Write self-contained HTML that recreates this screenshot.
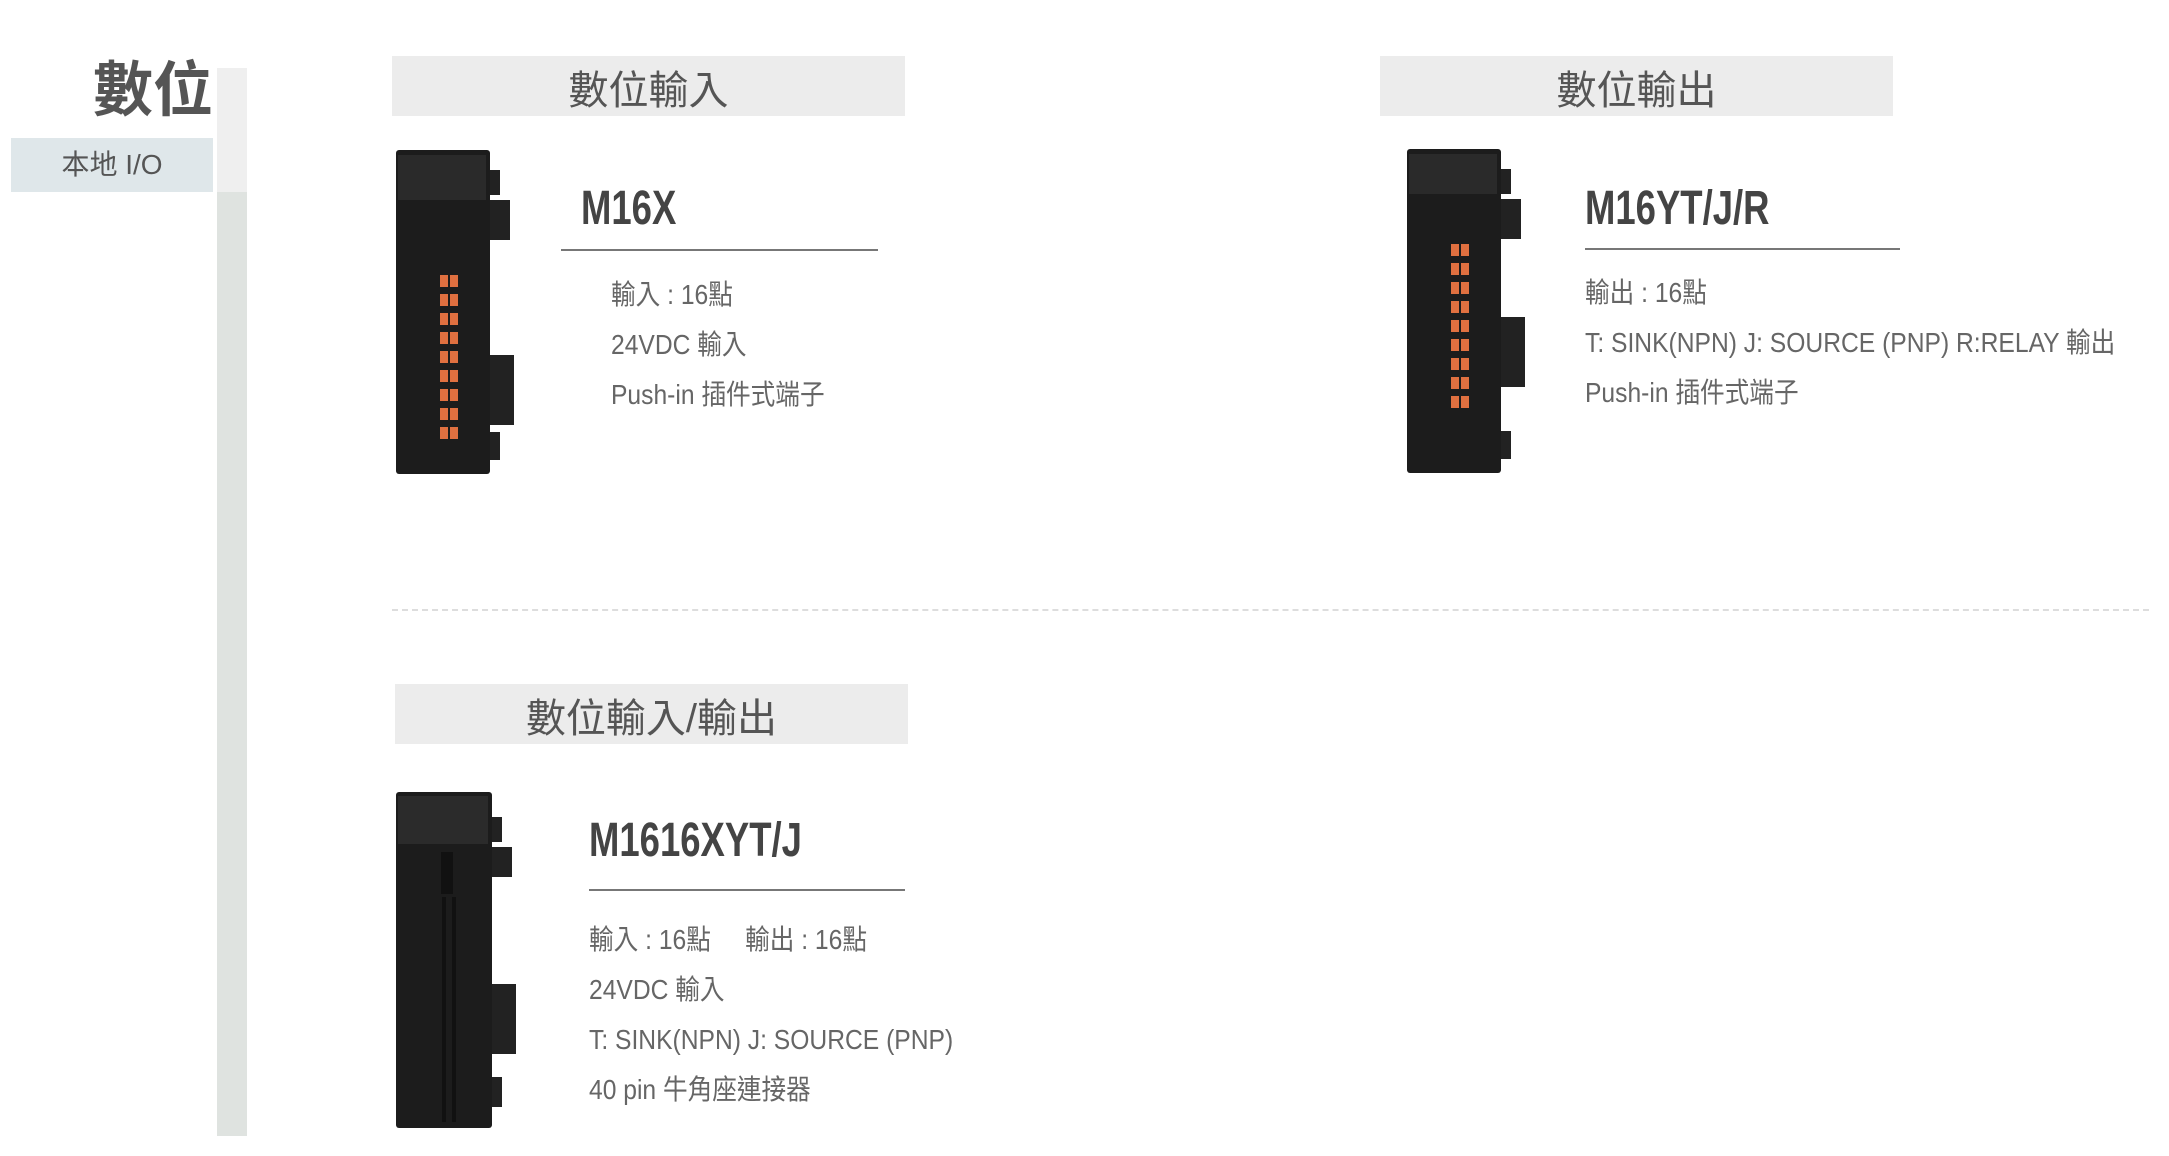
<!DOCTYPE html>
<html><head><meta charset="utf-8"><style>
*{margin:0;padding:0;box-sizing:border-box}
body{width:2169px;height:1156px;background:#fff;position:relative;overflow:hidden;font-family:"Liberation Sans","Noto Sans CJK TC",sans-serif;color:#555}
.a{position:absolute;white-space:nowrap}
.hdr{position:absolute;background:#ececec;color:#555;font-size:40px;text-align:center;line-height:70px;overflow:hidden}
.model{position:absolute;white-space:nowrap;font-weight:bold;font-size:48px;color:#444;line-height:50px;transform:scaleX(0.76);transform-origin:0 0}
.ul{position:absolute;height:2px;background:#777}
.d{position:absolute;white-space:nowrap;font-size:28px;color:#666;line-height:50px;transform:scaleX(0.88);transform-origin:0 0}
</style></head><body>
<div class="a" style="left:93px;top:54px;font-size:60px;font-weight:bold;color:#555;line-height:74px">數位</div>
<div class="a" style="left:11px;top:138px;width:202px;height:54px;background:#dfe7ea;font-size:28px;line-height:54px;text-align:center;color:#555">本地 I/O</div>
<div class="a" style="left:217px;top:68px;width:30px;height:124px;background:#efefef"></div>
<div class="a" style="left:217px;top:192px;width:30px;height:944px;background:#dfe3e0"></div>

<div class="hdr" style="left:392px;top:56px;width:513px;height:60px">數位輸入</div>
<div class="hdr" style="left:1380px;top:56px;width:513px;height:60px">數位輸出</div>
<div class="a" style="left:392px;top:609px;width:1757px;border-top:2px dashed #ddd"></div>
<div class="hdr" style="left:395px;top:684px;width:513px;height:60px">數位輸入/輸出</div>

<svg class="a" style="left:396px;top:150px" width="120" height="330" viewBox="0 0 120 330">
<rect x="0" y="0" width="94" height="324" rx="3" fill="#1c1c1c"/>
<rect x="2" y="5" width="88" height="45" fill="#2a2a2a"/>
<rect x="94" y="20" width="10" height="25" fill="#222"/><rect x="94" y="50" width="20" height="40" fill="#222"/>
<rect x="94" y="205" width="24" height="70" fill="#222"/><rect x="94" y="282" width="10" height="28" fill="#222"/>
<g fill="#e07040">
<rect x="44" y="125" width="8" height="12"/><rect x="54" y="125" width="8" height="12"/>
<rect x="44" y="144" width="8" height="12"/><rect x="54" y="144" width="8" height="12"/>
<rect x="44" y="163" width="8" height="12"/><rect x="54" y="163" width="8" height="12"/>
<rect x="44" y="182" width="8" height="12"/><rect x="54" y="182" width="8" height="12"/>
<rect x="44" y="201" width="8" height="12"/><rect x="54" y="201" width="8" height="12"/>
<rect x="44" y="220" width="8" height="12"/><rect x="54" y="220" width="8" height="12"/>
<rect x="44" y="239" width="8" height="12"/><rect x="54" y="239" width="8" height="12"/>
<rect x="44" y="258" width="8" height="12"/><rect x="54" y="258" width="8" height="12"/>
<rect x="44" y="277" width="8" height="12"/><rect x="54" y="277" width="8" height="12"/>
</g></svg>
<svg class="a" style="left:1407px;top:149px" width="120" height="330" viewBox="0 0 120 330">
<rect x="0" y="0" width="94" height="324" rx="3" fill="#1c1c1c"/>
<rect x="2" y="5" width="88" height="40" fill="#2a2a2a"/>
<rect x="94" y="20" width="10" height="25" fill="#222"/><rect x="94" y="50" width="20" height="40" fill="#222"/>
<rect x="94" y="168" width="24" height="70" fill="#222"/><rect x="94" y="282" width="10" height="28" fill="#222"/>
<g fill="#e07040">
<rect x="44" y="95" width="8" height="12"/><rect x="54" y="95" width="8" height="12"/>
<rect x="44" y="114" width="8" height="12"/><rect x="54" y="114" width="8" height="12"/>
<rect x="44" y="133" width="8" height="12"/><rect x="54" y="133" width="8" height="12"/>
<rect x="44" y="152" width="8" height="12"/><rect x="54" y="152" width="8" height="12"/>
<rect x="44" y="171" width="8" height="12"/><rect x="54" y="171" width="8" height="12"/>
<rect x="44" y="190" width="8" height="12"/><rect x="54" y="190" width="8" height="12"/>
<rect x="44" y="209" width="8" height="12"/><rect x="54" y="209" width="8" height="12"/>
<rect x="44" y="228" width="8" height="12"/><rect x="54" y="228" width="8" height="12"/>
<rect x="44" y="247" width="8" height="12"/><rect x="54" y="247" width="8" height="12"/>
</g></svg>
<svg class="a" style="left:396px;top:792px" width="120" height="340" viewBox="0 0 120 340">
<rect x="0" y="0" width="96" height="336" rx="3" fill="#1c1c1c"/>
<rect x="2" y="4" width="90" height="48" fill="#2b2b2b"/>
<rect x="45" y="60" width="12" height="42" fill="#111"/>
<rect x="46" y="105" width="4" height="225" fill="#111"/><rect x="56" y="105" width="4" height="225" fill="#111"/>
<rect x="96" y="25" width="10" height="25" fill="#222"/><rect x="96" y="55" width="20" height="30" fill="#222"/>
<rect x="96" y="192" width="24" height="70" fill="#222"/><rect x="96" y="285" width="10" height="30" fill="#222"/>
</svg>

<div class="model" style="left:581px;top:184px">M16X</div>
<div class="ul" style="left:561px;top:249px;width:317px"></div>
<div class="d" style="left:611px;top:270px">輸入 : 16點</div>
<div class="d" style="left:611px;top:320px">24VDC 輸入</div>
<div class="d" style="left:611px;top:370px">Push-in 插件式端子</div>

<div class="model" style="left:1585px;top:184px">M16YT/J/R</div>
<div class="ul" style="left:1585px;top:248px;width:315px"></div>
<div class="d" style="left:1585px;top:268px">輸出 : 16點</div>
<div class="d" style="left:1585px;top:318px">T: SINK(NPN) J: SOURCE (PNP) R:RELAY 輸出</div>
<div class="d" style="left:1585px;top:368px">Push-in 插件式端子</div>

<div class="model" style="left:589px;top:816px">M1616XYT/J</div>
<div class="ul" style="left:589px;top:889px;width:316px"></div>
<div class="d" style="left:589px;top:915px">輸入 : 16點&nbsp;&nbsp;&nbsp;&nbsp;&nbsp;輸出 : 16點</div>
<div class="d" style="left:589px;top:965px">24VDC 輸入</div>
<div class="d" style="left:589px;top:1015px">T: SINK(NPN) J: SOURCE (PNP)</div>
<div class="d" style="left:589px;top:1065px">40 pin 牛角座連接器</div>
</body></html>
